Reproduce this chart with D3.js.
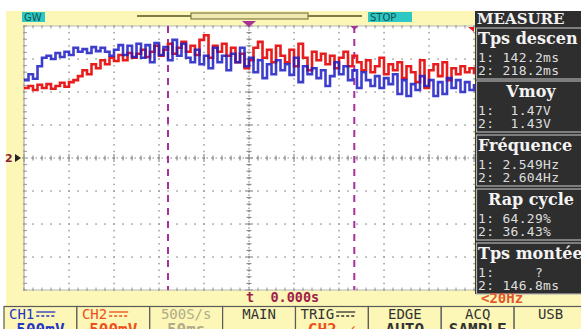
<!DOCTYPE html>
<html>
<head>
<meta charset="utf-8">
<script src="https://cdn.jsdelivr.net/npm/d3@7"></script>
<style>
  html, body { margin: 0; padding: 0; background: #fff; }
  svg { display: block; }
</style>
</head>
<body>
<svg id="scope" width="581" height="329"></svg>
<script>
// Time axis: 50 ms/div, 10 divisions, trigger at 0 — samples every 5 ms
const timesMs = d3.range(-250, 251, 5);

// CH1 (blue) in volts, 500 mV/div
const ch1Volts = [
  1.18,1.27,1.20,1.39,1.52,1.55,1.50,1.59,1.53,1.61,
  1.56,1.67,1.61,1.65,1.59,1.68,1.62,1.67,1.61,1.55,
  1.64,1.71,1.56,1.70,1.53,1.73,1.52,1.71,1.45,1.74,
  1.56,1.68,1.48,1.79,1.55,1.73,1.52,1.45,1.64,1.42,
  1.55,1.36,1.67,1.45,1.55,1.33,1.58,1.45,1.67,1.39,
  1.52,1.30,1.48,1.21,1.42,1.27,1.48,1.33,1.42,1.26,
  1.52,1.15,1.39,1.27,1.36,1.21,1.33,1.09,1.24,1.45,
  1.27,1.39,1.18,1.33,1.06,1.30,1.18,1.09,1.24,1.06,
  1.21,1.12,1.27,0.97,1.18,0.94,1.12,1.03,1.24,1.09,
  1.18,0.94,1.15,0.97,1.21,1.06,1.18,1.00,1.15,1.03,1.12
];

// CH2 (red) in volts, 500 mV/div
const ch2Volts = [
  1.06,1.09,1.03,1.11,1.06,1.12,1.05,1.09,1.14,1.08,
  1.15,1.18,1.24,1.33,1.27,1.42,1.36,1.48,1.42,1.52,
  1.47,1.56,1.48,1.59,1.52,1.58,1.64,1.53,1.61,1.70,
  1.55,1.64,1.73,1.58,1.67,1.76,1.61,1.70,1.56,1.79,
  1.86,1.52,1.70,1.61,1.73,1.55,1.67,1.45,1.58,1.36,
  1.48,1.67,1.76,1.52,1.64,1.45,1.70,1.55,1.45,1.64,
  1.39,1.73,1.52,1.33,1.61,1.48,1.58,1.42,1.55,1.36,
  1.52,1.61,1.39,1.55,1.45,1.33,1.48,1.30,1.39,1.52,
  1.27,1.42,1.33,1.45,1.21,1.39,1.30,1.15,1.48,1.06,
  1.33,1.42,1.24,1.45,1.18,1.36,1.27,1.39,1.30,1.36,1.27
];

// Cursor positions (ms)
const cursorsMs = [-90, 117];

// Measurement panel
const measureTitles = ['Tps descen', 'Vmoy', 'Fréquence', 'Rap cycle', 'Tps montée'];
const measureCentered = [false, true, false, true, false];
const measureCh1 = ['1: 142.2ms', '1:  1.47V', '1: 2.549Hz', '1: 64.29%', '1:     ?'];
const measureCh2 = ['2: 218.2ms', '2:  1.43V', '2: 2.604Hz', '2: 36.43%', '2: 146.8ms'];

// Bottom menu
const menuTop = ['CH1', 'CH2', '500S/s', 'MAIN', 'TRIG', 'EDGE', 'ACQ', 'USB'];
const menuBottom = ['500mV', '500mV', '50ms', '', 'CH2 ✓', 'AUTO', 'SAMPLE', ''];

const YELLOW = '#fcf7b6', BLUE = '#1c1cc4', RED = '#e81c1c', MAGENTA = '#a8309a';
const svg = d3.select('#scope');

const x = d3.scaleLinear().domain([-250, 250]).range([24, 474]);
const y = d3.scaleLinear().domain([-2, 2]).range([290, 26]);

// Backgrounds
svg.append('rect').attr('x', 6).attr('y', 11).attr('width', 575).attr('height', 318).attr('fill', YELLOW);
svg.append('rect').attr('x', x(-250)).attr('y', y(2)).attr('width', x(250) - x(-250)).attr('height', y(-2) - y(2)).attr('fill', '#fff');

// Grid — dotted division lines, crosses on the centre axes
const grid = svg.append('g').attr('fill', '#9a9a9a');
d3.range(-250, 251, 50).forEach(t => {
  d3.range(-2, 2.001, 0.1).forEach(v => {
    grid.append('rect').attr('x', x(t) - 0.7).attr('y', y(v) - 0.7).attr('width', 1.5).attr('height', 1.5);
  });
});
d3.range(-2, 2.001, 0.5).forEach(v => {
  d3.range(-250, 251, 10).forEach(t => {
    grid.append('rect').attr('x', x(t) - 0.7).attr('y', y(v) - 0.7).attr('width', 1.5).attr('height', 1.5);
  });
});
const cross = svg.append('g').attr('stroke', '#888').attr('stroke-width', 1.1);
d3.range(-250, 251, 10).forEach(t => {
  const h = t % 50 === 0 ? 4 : 2.5;
  cross.append('line').attr('x1', x(t)).attr('x2', x(t)).attr('y1', y(0) - h).attr('y2', y(0) + h);
});
d3.range(-2, 2.001, 0.1).forEach(v => {
  const h = Math.abs(v * 2 - Math.round(v * 2)) < 1e-6 ? 4 : 2.5;
  cross.append('line').attr('x1', x(0) - h).attr('x2', x(0) + h).attr('y1', y(v)).attr('y2', y(v));
});
cross.append('line').attr('x1', x(-250) - 2).attr('x2', x(250)).attr('y1', y(0)).attr('y2', y(0)).attr('stroke-dasharray', '1.5 3');
cross.append('line').attr('x1', x(0)).attr('x2', x(0)).attr('y1', y(2)).attr('y2', y(-2)).attr('stroke-dasharray', '1.5 1.8');
// frame with ticks
svg.append('line').attr('x1', x(-250)).attr('x2', x(-250)).attr('y1', y(2)).attr('y2', y(-2)).attr('stroke', '#9a9a9a');
svg.append('line').attr('x1', x(-250)).attr('x2', x(250)).attr('y1', y(2)).attr('y2', y(2)).attr('stroke', '#b8b8b8');
svg.append('line').attr('x1', x(-250)).attr('x2', x(250)).attr('y1', y(-2)).attr('y2', y(-2)).attr('stroke', '#b8b8b8');
d3.range(-2, 2.001, 0.1).forEach(v => {
  svg.append('line').attr('x1', x(-250)).attr('x2', x(-250) + 3).attr('y1', y(v)).attr('y2', y(v)).attr('stroke', '#9a9a9a');
});
d3.range(-250, 251, 10).forEach(t => {
  svg.append('line').attr('x1', x(t)).attr('x2', x(t)).attr('y1', y(2)).attr('y2', y(2) + 2.5).attr('stroke', '#9a9a9a');
  svg.append('line').attr('x1', x(t)).attr('x2', x(t)).attr('y1', y(-2)).attr('y2', y(-2) - 2.5).attr('stroke', '#9a9a9a');
});

// Cursors
cursorsMs.forEach(t => {
  svg.append('line').attr('x1', x(t)).attr('x2', x(t)).attr('y1', y(2)).attr('y2', y(-2))
    .attr('stroke', MAGENTA).attr('stroke-width', 2).attr('stroke-dasharray', '7 6');
});
svg.append('path').attr('d', `M${x(cursorsMs[1]) - 4},${y(2)} h8 l-4,4 z`).attr('fill', MAGENTA);

// Traces
const line = d3.line().x((d, i) => x(timesMs[i])).y(d => y(d)).curve(d3.curveStepAfter);
svg.append('path').datum(ch2Volts).attr('d', line).attr('fill', 'none').attr('stroke', RED).attr('stroke-width', 2.6);
svg.append('path').datum(ch1Volts).attr('d', line).attr('fill', 'none').attr('stroke', BLUE).attr('stroke-width', 2.6).attr('opacity', 0.85);

// Trigger markers
svg.append('path').attr('d', `M${x(0) - 7},${y(2) - 5} h14 l-7,6 z`).attr('fill', MAGENTA);
svg.append('path').attr('d', `M${x(250) - 6},${y(2) + 1} h6 v5 z`).attr('fill', RED);

// Ground marker
svg.append('text').attr('x', 5).attr('y', y(0) + 4).text('2')
  .attr('font-family', 'DejaVu Sans').attr('font-weight', 'bold').attr('font-size', 11).attr('fill', '#8c1e3c');
svg.append('path').attr('d', `M15,${y(0) - 4} l6,4 l-6,4 z`).attr('fill', '#222');

// Top bar
const topBar = svg.append('g');
topBar.append('rect').attr('x', 22).attr('y', 12).attr('width', 23).attr('height', 10).attr('fill', '#2ec8c4');
topBar.append('text').attr('x', 24).attr('y', 21).text('GW').attr('font-family', 'DejaVu Sans').attr('font-size', 10).attr('fill', '#125050');
topBar.append('line').attr('x1', 137).attr('x2', 362).attr('y1', 16).attr('y2', 16).attr('stroke', '#7e7c4a').attr('stroke-width', 2);
topBar.append('rect').attr('x', 191).attr('y', 13).attr('width', 117).attr('height', 6).attr('fill', '#efe9b0').attr('stroke', '#7e7c4a').attr('stroke-width', 1.2);
topBar.append('rect').attr('x', 368).attr('y', 12).attr('width', 44).attr('height', 10).attr('fill', '#2ec8c4');
topBar.append('text').attr('x', 370).attr('y', 21).text('STOP').attr('font-family', 'DejaVu Sans').attr('font-size', 10).attr('fill', '#125050');

// Measure panel
const panel = svg.append('g');
panel.append('rect').attr('x', 475).attr('y', 11).attr('width', 106).attr('height', 283).attr('fill', '#2e2e2e');
panel.append('text').attr('x', 477).attr('y', 24).text('MEASURE')
  .attr('font-family', 'DejaVu Serif').attr('font-weight', 'bold').attr('font-size', 15).attr('fill', '#f2f2f2');
const boxTop = [28, 81, 135, 189, 243];
measureTitles.forEach((title, i) => {
  const by = boxTop[i];
  panel.append('rect').attr('x', 476.5).attr('y', by).attr('width', 110).attr('height', 51)
    .attr('fill', 'none').attr('stroke', '#b4b4b4').attr('stroke-width', 1.2);
  panel.append('text').text(title)
    .attr('x', measureCentered[i] ? 531 : 478).attr('text-anchor', measureCentered[i] ? 'middle' : 'start')
    .attr('y', by + 16)
    .attr('font-family', 'DejaVu Serif').attr('font-weight', 'bold').attr('font-size', 16).attr('fill', '#f4f4f4');
  [measureCh1[i], measureCh2[i]].forEach((s, k) => {
    panel.append('text').text(s).attr('x', 478).attr('y', by + 34 + k * 13)
      .attr('font-family', 'DejaVu Sans Mono').attr('font-size', 13).attr('letter-spacing', 0.3).attr('fill', '#dedede')
      .style('white-space', 'pre');
  });
});

// Status line
svg.append('text').attr('x', 246).attr('y', 302).text('t  0.000s')
  .attr('font-family', 'DejaVu Sans Mono').attr('font-weight', 'bold').attr('font-size', 13.5).attr('fill', '#a0204c').style('white-space', 'pre');
svg.append('text').attr('x', 481).attr('y', 303).text('<20Hz')
  .attr('font-family', 'DejaVu Sans Mono').attr('font-weight', 'bold').attr('font-size', 14).attr('fill', '#e2562a');

// Bottom menu
const menuX = d3.scaleLinear().domain([0, 8]).range([4, 587]);
const topColours = ['#2434c4', '#ee4e1c', '#b0aa88', '#333', '#333', '#333', '#333', '#333'];
const botColours = ['#2434c4', '#ee4e1c', '#b0aa88', '#333', '#ee4e1c', '#333', '#333', '#333'];
const menu = svg.append('g');
menuTop.forEach((label, i) => {
  const x0 = menuX(i), x1 = menuX(i + 1);
  menu.append('rect').attr('x', x0).attr('y', 306.5).attr('width', x1 - x0).attr('height', 26)
    .attr('fill', YELLOW).attr('stroke', '#5a5a5a').attr('stroke-width', 1.2);
  const hasDC = i === 0 || i === 1 || i === 4;
  const cx = (x0 + x1) / 2;
  const tx = hasDC ? x0 + 5 : cx;
  menu.append('text').text(label).attr('x', tx).attr('y', 319)
    .attr('text-anchor', hasDC ? 'start' : 'middle')
    .attr('font-family', 'DejaVu Sans Mono').attr('font-size', 14).attr('fill', topColours[i]);
  if (hasDC) {
    const lx = tx + label.length * 8.43 + 2;
    menu.append('line').attr('x1', lx).attr('x2', lx + 19).attr('y1', 312).attr('y2', 312).attr('stroke', topColours[i]).attr('stroke-width', 1.3);
    menu.append('line').attr('x1', lx).attr('x2', lx + 19).attr('y1', 316).attr('y2', 316).attr('stroke', topColours[i]).attr('stroke-width', 1.3).attr('stroke-dasharray', '3 2');
  }
  if (menuBottom[i]) {
    menu.append('text').text(menuBottom[i]).attr('x', cx).attr('y', 335).attr('text-anchor', 'middle')
      .attr('font-family', 'DejaVu Sans Mono').attr('font-weight', 'bold').attr('font-size', 16).attr('fill', botColours[i]);
  }
});
</script>
</body>
</html>
